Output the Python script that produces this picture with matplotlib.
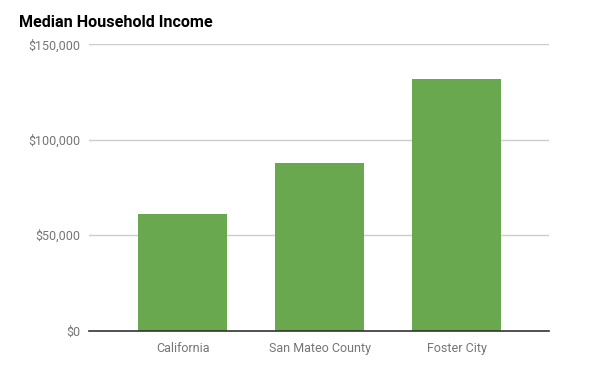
import matplotlib.pyplot as plt
import matplotlib.ticker as mticker

# ── 数据 ──────────────────────────────────────────────────────────────
categories = ["California", "San Mateo County", "Foster City"]
income = [61000, 87500, 131500]
yticks = [0, 50000, 100000, 150000]

plt.rcParams["font.family"] = ["Roboto", "DejaVu Sans"]

fig = plt.figure(figsize=(6, 3.71), dpi=100)
ax = fig.add_axes([0.148, 0.109, 0.767, 0.772])

x = range(len(categories))
ax.bar(x, income, width=0.65, color="#6aa84f", zorder=3)

ax.set_ylim(0, 150000)
ax.set_xlim(-0.686, 2.674)
ax.set_yticks(yticks)
ax.yaxis.set_major_formatter(mticker.FuncFormatter(lambda v, _: f"${int(v):,}"))
ax.set_xticks(list(x))
ax.set_xticklabels(categories)

ax.grid(axis="y", color="#cccccc", linewidth=1, zorder=0)
for s in ["top", "right", "left"]:
    ax.spines[s].set_visible(False)
ax.spines["bottom"].set_color("#333333")
ax.spines["bottom"].set_linewidth(1.2)
ax.spines["bottom"].set_zorder(4)

ax.tick_params(axis="both", length=0, labelsize=9, labelcolor="#757575")
ax.tick_params(axis="y", pad=6)
ax.tick_params(axis="x", pad=8)

fig.text(0.032, 0.94, "Median Household Income", fontsize=11.6, fontweight="bold",
         color="#000000", ha="left", va="center")

fig.savefig("out.png", dpi=100)
